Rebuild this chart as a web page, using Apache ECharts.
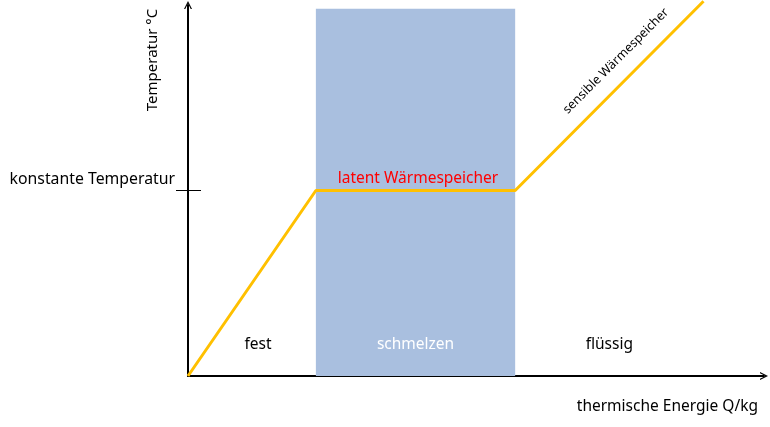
<!DOCTYPE html>
<html>
<head>
<meta charset="utf-8">
<script src="https://cdn.jsdelivr.net/npm/echarts@6/dist/echarts.min.js"></script>
<style>
  html, body { margin: 0; padding: 0; background: #fff; }
  #chart { width: 770px; height: 427px; }
</style>
</head>
<body>
<div id="chart"></div>
<script>
// energy (x) / temperature (y) in relative units
const curveEnergy = [0, 22.2, 56.8, 89.5]
const curveTemp = [0, 50, 50, 101]
const constTemp = 50

// phase regions along the energy axis
const phaseNames = ['fest', 'schmelzen', 'flüssig']
const phaseStart = [0, 22.2, 56.8]
const phaseEnd = [22.2, 56.8, 89.5]
const meltTop = 99

const FONT = '"Noto Sans", "Open Sans", sans-serif'
const arrowPath = 'path://M0,10 L5,0 L10,10 L8.4,10 L5,3.2 L1.6,10 Z'

let chart = echarts.init(document.getElementById('chart'))

const phaseColors = ['rgba(0,0,0,0)', '#a9bfdf', 'rgba(0,0,0,0)']
const phaseLabelColors = ['#000', '#fff', '#000']
const phaseLabelShift = [6, 0, 0]

const areas = phaseNames.map((name, i) => {
  return [{
    name: name,
    xAxis: phaseStart[i],
    yAxis: 0,
    itemStyle: { color: phaseColors[i] },
    label: { color: phaseLabelColors[i], offset: [phaseLabelShift[i], 0] }
  }, {
    xAxis: phaseEnd[i],
    yAxis: i === 1 ? meltTop : 100
  }]
})

const option = {
  animation: false,
  textStyle: { fontFamily: FONT },
  grid: {
    left: 188,
    right: 6,
    top: 5,
    bottom: 51
  },
  xAxis: {
    type: 'value',
    min: 0,
    max: 100,
    axisLine: {
      show: true,
      symbol: ['none', arrowPath],
      symbolSize: [10, 8],
      lineStyle: { color: '#000', width: 2 }
    },
    axisTick: { show: false },
    axisLabel: { show: false },
    splitLine: { show: false }
  },
  yAxis: [{
    type: 'value',
    min: 0,
    max: 100,
    axisLine: {
      show: true,
      symbol: ['none', arrowPath],
      symbolSize: [10, 8],
      lineStyle: { color: '#000', width: 2 }
    },
    axisTick: {
      show: true,
      customValues: [constTemp],
      length: 12,
      lineStyle: { color: '#000', width: 1 }
    },
    axisLabel: {
      show: true,
      customValues: [constTemp],
      formatter: function () { return 'konstante Temperatur' },
      margin: 13,
      verticalAlign: 'bottom',
      padding: [0, 0, 3, 0],
      color: '#000',
      fontSize: 15.8,
      fontFamily: FONT
    },
    splitLine: { show: false }
  }, {
    type: 'value',
    min: 0,
    max: 100,
    position: 'left',
    axisLine: { show: false },
    axisTick: {
      show: true,
      inside: true,
      customValues: [constTemp],
      length: 13,
      lineStyle: { color: '#000', width: 1 }
    },
    axisLabel: { show: false },
    splitLine: { show: false }
  }],
  series: [{
    type: 'line',
    name: 'phases',
    z: 1,
    data: [],
    markArea: {
      silent: true,
      label: {
        show: true,
        position: 'insideBottom',
        distance: 23,
        fontSize: 15.5,
        fontFamily: FONT
      },
      data: areas
    }
  }, {
    type: 'line',
    name: 'Temperatur',
    z: 3,
    clip: false,
    symbol: 'none',
    lineStyle: { color: '#ffc000', width: 3 },
    data: curveEnergy.map((x, i) => [x, curveTemp[i]])
  }],
  graphic: [{
    type: 'text',
    z: 10,
    x: 153,
    y: 60,
    rotation: Math.PI / 2,
    style: {
      text: 'Temperatur °C',
      align: 'center',
      verticalAlign: 'middle',
      font: '15px ' + FONT,
      fill: '#000'
    }
  }, {
    type: 'text',
    z: 10,
    x: 418,
    y: 179,
    style: {
      text: 'latent Wärmespeicher',
      align: 'center',
      verticalAlign: 'middle',
      font: '15.5px ' + FONT,
      fill: '#ff0000'
    }
  }, {
    type: 'text',
    z: 10,
    x: 616,
    y: 61,
    rotation: Math.PI / 4,
    style: {
      text: 'sensible Wärmespeicher',
      align: 'center',
      verticalAlign: 'middle',
      font: '12.5px ' + FONT,
      fill: '#000'
    }
  }, {
    type: 'text',
    z: 10,
    x: 758,
    y: 407,
    style: {
      text: 'thermische Energie Q/kg',
      align: 'right',
      verticalAlign: 'middle',
      font: '15.5px ' + FONT,
      fill: '#000'
    }
  }]
}

chart.setOption(option)
</script>
</body>
</html>
